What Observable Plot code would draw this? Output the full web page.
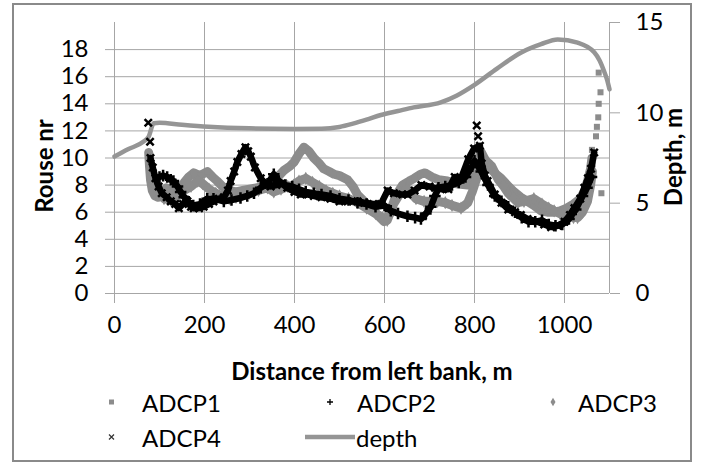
<!DOCTYPE html>
<html>
<head>
<meta charset="utf-8">
<script src="https://cdn.jsdelivr.net/npm/d3@7"></script>
<script src="https://cdn.jsdelivr.net/npm/@observablehq/plot@0.6"></script>
<style>
  html, body { margin: 0; padding: 0; background: #fff; }
  #chart { width: 704px; height: 466px; }
</style>
</head>
<body>
<div id="chart"></div>
<script>
// ---- tick labels ----
const xTicks = [0, 200, 400, 600, 800, 1000];
const yTicks = [0, 2, 4, 6, 8, 10, 12, 14, 16, 18];
const depthTicks = [0, 5, 10, 15];

// ---- depth profile (m) ----
const depthDist = [0, 30, 64, 76, 87, 100, 150, 209, 300, 400, 460, 500, 530, 560, 592, 630, 665, 725, 760, 800, 850, 903, 948, 985, 1029, 1066, 1078, 1088, 1095, 1100];
const depthVal  = [7.58, 7.98, 8.4, 8.68, 9.42, 9.45, 9.34, 9.23, 9.14, 9.11, 9.12, 9.22, 9.4, 9.62, 9.88, 10.1, 10.3, 10.58, 10.95, 11.55, 12.45, 13.33, 13.8, 14.06, 13.88, 13.35, 12.9, 12.3, 11.8, 11.3];

// ---- Rouse number series [distance, value] ----
const adcp1 = [[76,10.4],[78,9.3],[80,8.4],[84,7.6],[90,7.2],[97,7.1],[105,7.4],[115,7.8],[125,7.6],[135,7.3],[145,7.7],[155,8.2],[165,8.6],[176,8.9],[190,8.7],[206,9.0],[218,8.6],[228,8.3],[240,7.9],[255,7.6],[270,7.5],[285,7.6],[300,7.7],[315,7.8],[330,7.9],[345,8.1],[360,8.5],[377,9.1],[390,9.4],[399,9.7],[410,10.3],[421,10.8],[432,10.5],[443,10.0],[455,9.6],[465,9.2],[477,9.0],[488,8.8],[500,8.7],[518,8.4],[530,7.9],[540,7.3],[555,6.8],[565,6.4],[577,6.1],[590,5.6],[599,5.3],[610,5.8],[625,7.2],[640,8.0],[655,8.3],[666,8.5],[680,8.8],[690,8.9],[705,8.6],[720,8.4],[740,8.3],[760,8.1],[785,8.0],[800,8.6],[808,9.8],[814,10.5],[825,9.8],[836,9.2],[848,8.8],[859,8.5],[873,8.0],[888,7.5],[903,7.1],[918,6.8],[932,6.5],[948,6.1],[962,6.0],[977,6.0],[990,6.1],[1005,6.3],[1020,6.6],[1035,7.0],[1045,7.6],[1052,8.4],[1058,9.2],[1061,10.0]];
const adcp1Tail = [[1061,10.6],[1070,11.6],[1072,12.3],[1075,13.0],[1076,14.0],[1080,14.85],[1076,16.3],[1082,7.4]];
const adcp2 = [[100,8.6],[108,8.7],[117,8.6],[125,8.4],[131,8.3],[140,7.9],[147,7.5],[155,7.1],[162,6.8],[175,6.5],[190,6.6],[206,7.0],[220,7.0],[243,6.8],[260,6.9],[280,7.05],[295,7.2],[310,7.4],[325,7.8],[340,8.1],[354,8.8],[365,8.3],[380,8.0],[395,7.9],[410,7.7],[425,7.5],[443,7.4],[460,7.3],[480,7.2],[500,7.0],[520,6.9],[540,6.7],[560,6.6],[580,6.4],[600,6.5],[614,6.1],[630,5.9],[651,5.7],[668,5.6],[681,5.5],[692,5.9],[703,6.4],[712,7.2],[720,7.8],[735,7.9],[750,8.0],[765,8.2],[780,8.6],[795,9.4],[800,9.8],[815,9.0],[830,8.0],[845,7.2],[860,6.8],[875,6.4],[890,6.0],[905,5.6],[920,5.3],[935,5.3],[950,5.4],[965,5.1],[980,5.0],[995,5.1],[1010,5.5],[1025,6.2],[1040,7.2],[1050,7.8],[1060,8.6]];
const adcp3 = [[80,9.0],[85,8.2],[95,7.8],[110,7.0],[125,6.9],[140,7.2],[155,7.6],[170,7.9],[185,8.3],[196,8.1],[210,7.7],[225,7.4],[240,7.2],[255,7.0],[270,7.1],[285,7.3],[300,7.4],[320,7.6],[340,7.8],[354,7.5],[370,7.7],[385,7.9],[398,8.0],[410,8.3],[425,8.5],[440,8.2],[455,7.9],[470,7.6],[485,7.4],[500,7.2],[520,7.0],[540,6.7],[560,6.3],[580,5.9],[595,5.6],[606,5.4],[620,6.6],[635,7.4],[651,7.7],[670,7.0],[688,6.8],[705,6.8],[718,6.8],[735,6.7],[750,6.5],[770,6.3],[785,6.7],[795,7.5],[805,8.5],[816,10.1],[825,9.8],[838,9.4],[853,8.4],[865,7.9],[875,7.4],[897,6.7],[910,6.8],[932,7.0],[950,6.6],[965,6.3],[977,6.1],[990,5.9],[1005,5.7],[1020,5.6],[1029,5.6],[1040,6.0],[1051,6.8],[1058,8.0],[1062,9.0]];
const adcp4 = [[75,12.6],[79,11.2],[80,10.0],[85,9.3],[91,8.5],[98,7.9],[105,7.4],[116,7.1],[125,6.8],[135,6.6],[143,6.3],[152,6.6],[162,6.8],[170,6.4],[176,6.3],[188,6.3],[198,6.4],[210,6.6],[220,6.8],[232,7.0],[243,7.1],[252,7.6],[258,8.3],[266,9.0],[273,9.7],[282,10.3],[291,10.8],[297,10.5],[303,10.1],[312,9.3],[325,8.5],[336,8.1],[347,7.9],[360,8.0],[372,8.1],[384,7.8],[400,7.5],[414,7.3],[430,7.3],[443,7.2],[460,7.1],[480,7.0],[500,6.8],[518,6.8],[540,6.8],[555,6.7],[575,6.6],[592,6.6],[607,7.6],[621,7.4],[640,7.3],[651,7.3],[667,7.6],[682,8.0],[700,7.9],[712,7.8],[725,7.7],[742,7.7],[756,8.6],[770,8.5],[786,9.9],[799,10.7],[805,12.4],[808,11.6],[812,10.9],[816,9.6],[823,8.7],[829,8.3],[845,7.3],[860,6.7],[875,6.2],[890,6.0],[903,5.8],[918,5.5],[940,5.3],[955,5.1],[970,4.9],[985,5.0],[1000,5.3],[1012,5.8],[1022,6.3],[1035,7.0],[1044,7.8],[1052,8.5],[1059,9.2],[1066,10.4]];

const depthToLeft = 20 / 15;
const depth = depthDist.map((d, i) => ({x: d, y: depthVal[i] * depthToLeft}));
const toObj = arr => arr.map(([x, y]) => ({x, y}));

const GRID = "#a6a6a6";
const GREY = "#8c8c8c";
const DGREY = "#959595";
const FONT = "Lato, 'Open Sans', sans-serif";

const plot = Plot.plot({
  width: 704,
  height: 466,
  marginLeft: 114,
  marginRight: 95,
  marginTop: 22,
  marginBottom: 173,
  style: {fontFamily: FONT, fontSize: "24px", color: "#000", background: "#fff"},
  x: {domain: [0, 1100]},
  y: {domain: [0, 20]},
  marks: [
    Plot.gridX(xTicks.filter(d => d > 0), {stroke: GRID, strokeOpacity: 1}),
    Plot.gridY(yTicks.filter(d => d > 0), {stroke: GRID, strokeOpacity: 1}),
    Plot.ruleX([0, 1100], {stroke: GRID}),
    Plot.ruleY([0], {stroke: GRID}),
    Plot.axisX(xTicks, {anchor: "bottom", tickSize: 10, tickPadding: 12, stroke: GRID, fill: "#000", fontSize: 24, label: null, tickFormat: d => String(d)}),
    Plot.axisY(yTicks, {anchor: "left", tickSize: 9, tickPadding: 17, stroke: GRID, fill: "#000", fontSize: 24, label: null}),
    Plot.axisY(depthTicks.map(d => d * depthToLeft), {anchor: "right", tickSize: 10, tickPadding: 16, stroke: GRID, fill: "#000", fontSize: 24, label: null, tickFormat: d => String(Math.round(d / depthToLeft))}),
    Plot.line(depth, {x: "x", y: "y", stroke: DGREY, strokeWidth: 4.5, curve: "monotone-x"}),
    Plot.line(toObj(adcp1), {x: "x", y: "y", stroke: GREY, strokeWidth: 9, strokeLinejoin: "round"}),
    Plot.dot(toObj(adcp1).concat(toObj(adcp1Tail)), {x: "x", y: "y", symbol: "square", fill: GREY, r: 3.4}),
    Plot.line(toObj(adcp3), {x: "x", y: "y", stroke: GREY, strokeWidth: 9, strokeLinejoin: "round"}),
    Plot.dot(toObj(adcp3), {x: "x", y: "y", symbol: "diamond", fill: GREY, r: 4}),
    Plot.line(toObj(adcp2), {x: "x", y: "y", stroke: "#000", strokeWidth: 6.5, strokeLinejoin: "round"}),
    Plot.dot(toObj(adcp2), {x: "x", y: "y", symbol: "plus", stroke: "#000", strokeWidth: 2.5, r: 3.8}),
    Plot.line(toObj(adcp4), {x: "x", y: "y", stroke: "#000", strokeWidth: 6.5, strokeLinejoin: "round", filter: d => d.y < 11}),
    Plot.dot(toObj(adcp4), {x: "x", y: "y", symbol: "times", stroke: "#000", strokeWidth: 2.5, r: 3.4})
  ]
});

document.getElementById("chart").appendChild(plot);

// ---- titles, legend, border (added with d3 on the same SVG) ----
const svg = d3.select(plot);
svg.append("rect").attr("x", 13).attr("y", 4).attr("width", 678).attr("height", 457)
  .attr("fill", "none").attr("stroke", "#8a8a8a").attr("stroke-width", 2);

const title = (txt, transform) => svg.append("text").text(txt)
  .attr("transform", transform).attr("text-anchor", "middle").attr("dominant-baseline", "central")
  .attr("font-family", FONT).attr("font-weight", "bold").attr("font-size", 24).attr("fill", "#000");
title("Distance from left bank, m", "translate(372,370)");
title("Rouse nr", "translate(43,166) rotate(-90)");
title("Depth, m", "translate(672,157) rotate(-90)");

const legendItems = [
  {name: "ADCP1", sym: "square", mx: 111.5, tx: 142, y: 402},
  {name: "ADCP2", sym: "plus", mx: 330, tx: 357, y: 402},
  {name: "ADCP3", sym: "diamond", mx: 553, tx: 578, y: 402},
  {name: "ADCP4", sym: "times", mx: 111.5, tx: 142, y: 437},
  {name: "depth", sym: "line", mx: 330, tx: 356, y: 437}
];
const lg = svg.append("g");
legendItems.forEach(it => {
  if (it.sym === "square") {
    lg.append("rect").attr("x", it.mx - 2.5).attr("y", it.y - 2.5).attr("width", 5).attr("height", 5).attr("fill", GREY);
  } else if (it.sym === "diamond") {
    lg.append("path").attr("d", d3.symbol(d3.symbolDiamond, 22)()).attr("transform", `translate(${it.mx},${it.y})`).attr("fill", GREY);
  } else if (it.sym === "plus") {
    lg.append("path").attr("d", `M${it.mx - 3},${it.y}h6M${it.mx},${it.y - 3}v6`).attr("stroke", "#000").attr("stroke-width", 1.3).attr("fill", "none");
  } else if (it.sym === "times") {
    lg.append("path").attr("d", `M${it.mx - 2.5},${it.y - 2.5}l5,5M${it.mx + 2.5},${it.y - 2.5}l-5,5`).attr("stroke", "#333").attr("stroke-width", 1.2).attr("fill", "none");
  } else {
    lg.append("line").attr("x1", 305).attr("x2", 355).attr("y1", it.y).attr("y2", it.y).attr("stroke", DGREY).attr("stroke-width", 4.5);
  }
  lg.append("text").text(it.name).attr("x", it.tx).attr("y", it.y)
    .attr("text-anchor", "start").attr("dominant-baseline", "central")
    .attr("font-family", FONT).attr("font-size", 24).attr("fill", "#000");
});
</script>
</body>
</html>
